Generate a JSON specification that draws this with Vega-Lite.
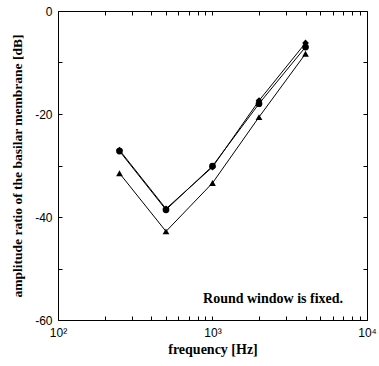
{
  "$schema": "https://vega.github.io/schema/vega-lite/v6.json",
  "width": 309,
  "height": 309,
  "autosize": "none",
  "padding": {"left": 58, "top": 11, "right": 12, "bottom": 46},
  "background": "white",
  "config": {
    "view": {"stroke": "black", "strokeWidth": 1},
    "axis": {"grid": true, "gridColor": "black", "gridOpacity": 1, "gridWidth": 1, "gridDash": [4, 301, 4, 10000], "domain": false, "ticks": false, "labelColor": "black", "titleColor": "black", "labelFont": "Liberation Sans", "labelFontSize": 12, "titleFont": "Liberation Serif", "titleFontWeight": "bold", "titleFontSize": 14}
  },
  "data": {
    "values": [
      {"f": 250, "db": -27.2, "s": "A"},
      {"f": 500, "db": -38.6, "s": "A"},
      {"f": 1000, "db": -30.1, "s": "A"},
      {"f": 2000, "db": -18.0, "s": "A"},
      {"f": 4000, "db": -7.0, "s": "A"},
      {"f": 250, "db": -27.0, "s": "B"},
      {"f": 500, "db": -38.4, "s": "B"},
      {"f": 1000, "db": -30.3, "s": "B"},
      {"f": 2000, "db": -17.4, "s": "B"},
      {"f": 4000, "db": -6.2, "s": "B"},
      {"f": 250, "db": -31.5, "s": "C"},
      {"f": 500, "db": -42.8, "s": "C"},
      {"f": 1000, "db": -33.4, "s": "C"},
      {"f": 2000, "db": -20.6, "s": "C"},
      {"f": 4000, "db": -8.3, "s": "C"}
    ]
  },
  "layer": [
    {
      "mark": {"type": "line", "color": "black", "strokeWidth": 1},
      "encoding": {
        "x": {"field": "f", "type": "quantitative", "scale": {"type": "log", "domain": [100, 10000], "nice": false},
          "axis": {"orient": "bottom", "title": "frequency [Hz]", "titlePadding": 4, "values": [100,200,300,400,500,600,700,800,900,1000,2000,3000,4000,5000,6000,7000,8000,9000,10000], "labelPadding": 7, "labelOverlap": false, "labelFlush": false,
            "labelExpr": "datum.value == 100 ? '10²' : datum.value == 1000 ? '10³' : datum.value == 10000 ? '10⁴' : ''"}},
        "y": {"field": "db", "type": "quantitative", "scale": {"domain": [-60, 0], "nice": false},
          "axis": {"orient": "left", "title": "amplitude ratio of the basilar membrane [dB]", "titleFontSize": 13.5, "titlePadding": 10, "values": [0,-10,-20,-30,-40,-50,-60], "labelPadding": 6, "labelOverlap": false, "labelFlush": false,
            "labelExpr": "datum.value % 20 == 0 ? (datum.value < 0 ? '-' + (-datum.value) : '0') : ''"}},
        "detail": {"field": "s"}
      }
    },
    {
      "mark": {"type": "point", "filled": true, "color": "black", "opacity": 1},
      "encoding": {
        "x": {"field": "f", "type": "quantitative"},
        "y": {"field": "db", "type": "quantitative"},
        "shape": {"field": "s", "type": "nominal", "scale": {"domain": ["A","B","C"], "range": ["circle","diamond","triangle-up"]}, "legend": null},
        "size": {"value": 45}
      }
    },
    {
      "data": {"values": [{"f": 7000, "db": -55.9, "t": "Round window is fixed."}]},
      "mark": {"type": "text", "align": "right", "baseline": "middle", "font": "Liberation Serif", "fontWeight": "bold", "fontSize": 14, "color": "black"},
      "encoding": {
        "x": {"field": "f", "type": "quantitative"},
        "y": {"field": "db", "type": "quantitative"},
        "text": {"field": "t"}
      }
    }
  ]
}
